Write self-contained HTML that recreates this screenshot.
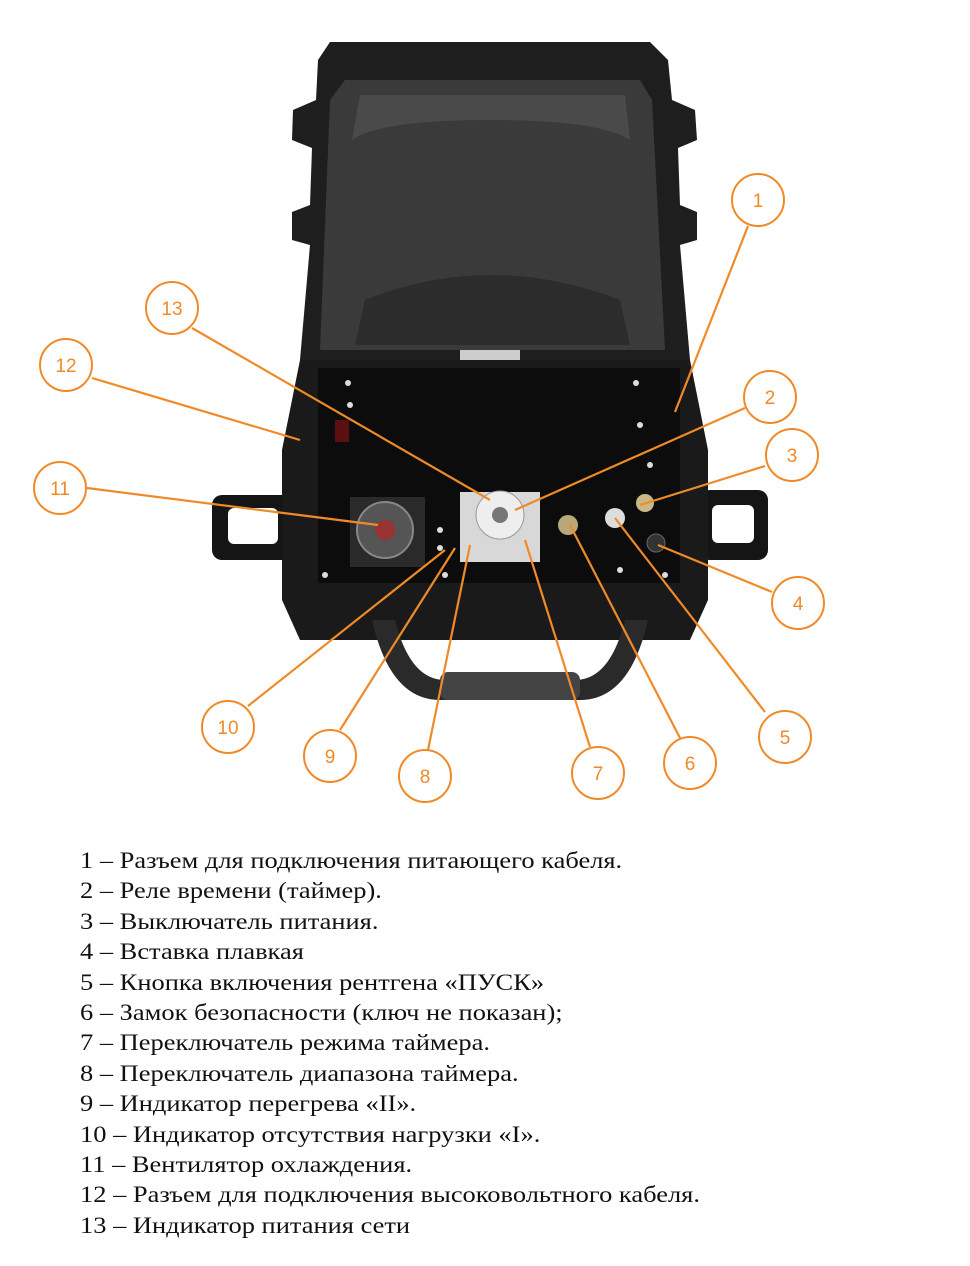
<!DOCTYPE html>
<html><head><meta charset="utf-8"><style>
html,body{margin:0;padding:0;background:#fff;}
body{width:970px;height:1266px;position:relative;overflow:hidden;}
svg{position:absolute;left:0;top:0;}
.leg{position:absolute;left:80px;top:846px;font-family:"Liberation Serif",serif;font-size:23px;line-height:30.4px;color:#111;transform:scaleX(1.15);transform-origin:0 0;white-space:nowrap;}
</style></head><body>
<svg width="970" height="840" viewBox="0 0 970 840">
<path d="M330 42 L650 42 L668 60 L672 100 L695 110 L697 140 L678 148 L680 205 L697 212 L697 240 L680 245 L690 360 L300 360 L310 245 L292 240 L292 212 L310 205 L312 148 L292 140 L293 110 L316 100 L318 60 Z" fill="#1e1e1e"/>
<path d="M345 80 L640 80 L652 100 L665 350 L320 350 L330 100 Z" fill="#3a3a3a"/>
<path d="M360 95 L625 95 L630 140 Q600 120 490 120 Q380 120 352 140 Z" fill="#4a4a4a"/>
<path d="M365 300 Q490 250 620 300 L630 345 L355 345 Z" fill="#2c2c2c"/>
<rect x="460" y="350" width="60" height="14" fill="#ccc"/>
<rect x="212" y="495" width="80" height="65" rx="10" fill="#151515"/>
<rect x="228" y="508" width="50" height="36" rx="6" fill="#fff"/>
<rect x="700" y="490" width="68" height="70" rx="10" fill="#151515"/>
<rect x="712" y="505" width="42" height="38" rx="6" fill="#fff"/>
<path d="M300 360 L690 360 L708 450 L708 600 L690 640 L300 640 L282 600 L282 450 Z" fill="#1a1a1a"/>
<rect x="318" y="368" width="362" height="215" fill="#0c0c0c"/>
<path d="M372 620 Q390 700 440 700 L580 700 Q630 700 648 620 L625 620 Q610 680 575 680 L445 680 Q410 680 395 620 Z" fill="#2a2a2a"/>
<rect x="440" y="672" width="140" height="28" rx="8" fill="#444"/>
<rect x="350" y="497" width="75" height="70" fill="#2a2a2a"/>
<circle cx="385" cy="530" r="28" fill="#555" stroke="#888" stroke-width="2"/>
<circle cx="385" cy="530" r="10" fill="#933"/>
<rect x="460" y="492" width="80" height="70" fill="#d8d8d8"/>
<circle cx="500" cy="515" r="24" fill="#eee" stroke="#999"/>
<circle cx="500" cy="515" r="8" fill="#777"/>
<circle cx="568" cy="525" r="10" fill="#b8a878"/>
<circle cx="615" cy="518" r="10" fill="#ddd"/>
<circle cx="645" cy="503" r="9" fill="#c8b888"/>
<circle cx="656" cy="543" r="9" fill="#333" stroke="#666"/>
<rect x="335" y="420" width="14" height="22" fill="#5a1010"/>
<g fill="#ddd">
<circle cx="348" cy="383" r="3"/><circle cx="636" cy="383" r="3"/><circle cx="350" cy="405" r="3"/>
<circle cx="325" cy="575" r="3"/><circle cx="665" cy="575" r="3"/><circle cx="445" cy="575" r="3"/><circle cx="620" cy="570" r="3"/>
<circle cx="640" cy="425" r="3"/><circle cx="650" cy="465" r="3"/><circle cx="440" cy="530" r="3"/><circle cx="440" cy="548" r="3"/>
</g>
<g stroke="#f08a28" stroke-width="2.2" fill="none">
<line x1="748" y1="226" x2="675" y2="412"/>
<line x1="192" y1="328" x2="490" y2="500"/>
<line x1="92" y1="378" x2="300" y2="440"/>
<line x1="745" y1="408" x2="515" y2="510"/>
<line x1="765" y1="466" x2="640" y2="505"/>
<line x1="87" y1="488" x2="378" y2="525"/>
<line x1="772" y1="592" x2="658" y2="545"/>
<line x1="248" y1="706" x2="445" y2="550"/>
<line x1="340" y1="730" x2="455" y2="548"/>
<line x1="428" y1="750" x2="470" y2="545"/>
<line x1="590" y1="747" x2="525" y2="540"/>
<line x1="680" y1="738" x2="570" y2="525"/>
<line x1="765" y1="712" x2="615" y2="518"/>
</g>
<g stroke="#f08a28" stroke-width="2" fill="#fff">
<circle cx="758" cy="200" r="26"/><circle cx="172" cy="308" r="26"/><circle cx="66" cy="365" r="26"/>
<circle cx="770" cy="397" r="26"/><circle cx="792" cy="455" r="26"/><circle cx="60" cy="488" r="26"/>
<circle cx="798" cy="603" r="26"/><circle cx="228" cy="727" r="26"/><circle cx="785" cy="737" r="26"/>
<circle cx="330" cy="756" r="26"/><circle cx="425" cy="776" r="26"/><circle cx="598" cy="773" r="26"/>
<circle cx="690" cy="763" r="26"/>
</g>
<g fill="#f08a28" font-family="Liberation Sans,sans-serif" font-size="19" text-anchor="middle">
<text x="758" y="207">1</text><text x="172" y="315">13</text><text x="66" y="372">12</text>
<text x="770" y="404">2</text><text x="792" y="462">3</text><text x="60" y="495">11</text>
<text x="798" y="610">4</text><text x="228" y="734">10</text><text x="785" y="744">5</text>
<text x="330" y="763">9</text><text x="425" y="783">8</text><text x="598" y="780">7</text>
<text x="690" y="770">6</text>
</g>
</svg>
<div class="leg">
1 – Разъем для подключения питающего кабеля.<br>
2 – Реле времени (таймер).<br>
3 – Выключатель питания.<br>
4 – Вставка плавкая<br>
5 – Кнопка включения рентгена «ПУСК»<br>
6 – Замок безопасности (ключ не показан);<br>
7 – Переключатель режима таймера.<br>
8 – Переключатель диапазона таймера.<br>
9 – Индикатор перегрева «II».<br>
10 – Индикатор отсутствия нагрузки «I».<br>
11 – Вентилятор охлаждения.<br>
12 – Разъем для подключения высоковольтного кабеля.<br>
13 – Индикатор питания сети
</div>
</body></html>
